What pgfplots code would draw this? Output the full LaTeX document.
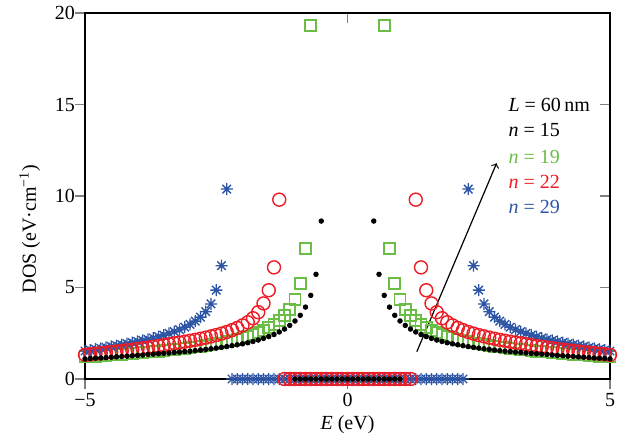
\documentclass[border=0pt]{standalone}
\usepackage{fontspec}
\setmainfont{Liberation Serif}
\usepackage{pgfplots}
\pgfplotsset{compat=1.18}
\usetikzlibrary{calc}
\definecolor{dosblack}{RGB}{0,0,0}
\definecolor{dosgreen}{RGB}{106,190,69}
\definecolor{dosred}{RGB}{237,28,36}
\definecolor{dosblue}{RGB}{45,85,165}

% eight-armed asterisk, as in the original figure
\pgfdeclareplotmark{ast8}{%
  \pgfpathmoveto{\pgfqpoint{-\pgfplotmarksize}{0pt}}\pgfpathlineto{\pgfqpoint{\pgfplotmarksize}{0pt}}%
  \pgfpathmoveto{\pgfqpoint{0pt}{-\pgfplotmarksize}}\pgfpathlineto{\pgfqpoint{0pt}{\pgfplotmarksize}}%
  \pgfpathmoveto{\pgfqpoint{-0.707\pgfplotmarksize}{-0.707\pgfplotmarksize}}\pgfpathlineto{\pgfqpoint{0.707\pgfplotmarksize}{0.707\pgfplotmarksize}}%
  \pgfpathmoveto{\pgfqpoint{-0.707\pgfplotmarksize}{0.707\pgfplotmarksize}}\pgfpathlineto{\pgfqpoint{0.707\pgfplotmarksize}{-0.707\pgfplotmarksize}}%
  \pgfusepathqstroke}

% n = 15
\pgfplotstableread{
E D
-5.0 1.10
-4.9 1.12
-4.8 1.14
-4.7 1.15
-4.6 1.17
-4.5 1.19
-4.4 1.21
-4.3 1.23
-4.2 1.25
-4.1 1.27
-4.0 1.29
-3.9 1.31
-3.8 1.34
-3.7 1.36
-3.6 1.38
-3.5 1.40
-3.4 1.42
-3.3 1.45
-3.2 1.47
-3.1 1.50
-3.0 1.52
-2.9 1.55
-2.8 1.58
-2.7 1.62
-2.6 1.65
-2.5 1.69
-2.4 1.73
-2.3 1.77
-2.2 1.82
-2.1 1.87
-2.0 1.92
-1.9 1.98
-1.8 2.05
-1.7 2.13
-1.6 2.22
-1.5 2.32
-1.4 2.43
-1.3 2.57
-1.2 2.73
-1.1 2.93
-1.0 3.17
-0.9 3.48
-0.8 3.93
-0.7 4.57
-0.6 5.72
-0.5 8.63
-1.0 0
-0.9 0
-0.8 0
-0.7 0
-0.6 0
-0.5 0
-0.4 0
-0.3 0
-0.2 0
-0.1 0
0.0 0
0.1 0
0.2 0
0.3 0
0.4 0
0.5 0
0.6 0
0.7 0
0.8 0
0.9 0
1.0 0
0.5 8.63
0.6 5.72
0.7 4.57
0.8 3.93
0.9 3.48
1.0 3.17
1.1 2.93
1.2 2.73
1.3 2.57
1.4 2.43
1.5 2.32
1.6 2.22
1.7 2.13
1.8 2.05
1.9 1.98
2.0 1.92
2.1 1.87
2.2 1.82
2.3 1.77
2.4 1.73
2.5 1.69
2.6 1.65
2.7 1.62
2.8 1.58
2.9 1.55
3.0 1.52
3.1 1.50
3.2 1.47
3.3 1.45
3.4 1.42
3.5 1.40
3.6 1.38
3.7 1.36
3.8 1.34
3.9 1.31
4.0 1.29
4.1 1.27
4.2 1.25
4.3 1.23
4.4 1.21
4.5 1.19
4.6 1.17
4.7 1.15
4.8 1.14
4.9 1.12
5.0 1.10
}\nfifteen

% n = 19
\pgfplotstableread{
E D
-5.0 1.21
-4.9 1.23
-4.8 1.25
-4.7 1.27
-4.6 1.29
-4.5 1.31
-4.4 1.33
-4.3 1.35
-4.2 1.37
-4.1 1.39
-4.0 1.42
-3.9 1.44
-3.8 1.47
-3.7 1.49
-3.6 1.52
-3.5 1.55
-3.4 1.58
-3.3 1.61
-3.2 1.64
-3.1 1.67
-3.0 1.71
-2.9 1.75
-2.8 1.79
-2.7 1.83
-2.6 1.87
-2.5 1.92
-2.4 1.97
-2.3 2.03
-2.2 2.09
-2.1 2.16
-2.0 2.24
-1.9 2.32
-1.8 2.42
-1.7 2.53
-1.6 2.65
-1.5 2.80
-1.4 2.98
-1.3 3.21
-1.2 3.46
-1.1 3.81
-1.0 4.34
-0.9 5.21
-0.8 7.12
-0.7 19.3
-1.0 0
-0.9 0
-0.8 0
-0.7 0
-0.6 0
-0.5 0
-0.4 0
-0.3 0
-0.2 0
-0.1 0
0.0 0
0.1 0
0.2 0
0.3 0
0.4 0
0.5 0
0.6 0
0.7 0
0.8 0
0.9 0
1.0 0
0.7 19.3
0.8 7.12
0.9 5.21
1.0 4.34
1.1 3.81
1.2 3.46
1.3 3.21
1.4 2.98
1.5 2.80
1.6 2.65
1.7 2.53
1.8 2.42
1.9 2.32
2.0 2.24
2.1 2.16
2.2 2.09
2.3 2.03
2.4 1.97
2.5 1.92
2.6 1.87
2.7 1.83
2.8 1.79
2.9 1.75
3.0 1.71
3.1 1.67
3.2 1.64
3.3 1.61
3.4 1.58
3.5 1.55
3.6 1.52
3.7 1.49
3.8 1.47
3.9 1.44
4.0 1.42
4.1 1.39
4.2 1.37
4.3 1.35
4.4 1.33
4.5 1.31
4.6 1.29
4.7 1.27
4.8 1.25
4.9 1.23
5.0 1.21
}\nnineteen

% n = 22
\pgfplotstableread{
E D
-5.0 1.32
-4.9 1.35
-4.8 1.38
-4.7 1.41
-4.6 1.44
-4.5 1.47
-4.4 1.50
-4.3 1.53
-4.2 1.57
-4.1 1.60
-4.0 1.64
-3.9 1.68
-3.8 1.72
-3.7 1.76
-3.6 1.80
-3.5 1.85
-3.4 1.90
-3.3 1.95
-3.2 1.99
-3.1 2.04
-3.0 2.09
-2.9 2.14
-2.8 2.20
-2.7 2.26
-2.6 2.33
-2.5 2.40
-2.4 2.48
-2.3 2.57
-2.2 2.67
-2.1 2.79
-2.0 2.93
-1.9 3.10
-1.8 3.32
-1.7 3.65
-1.6 4.13
-1.5 4.85
-1.4 6.10
-1.3 9.80
-1.2 0
-1.1 0
-1.0 0
-0.9 0
-0.8 0
-0.7 0
-0.6 0
-0.5 0
-0.4 0
-0.3 0
-0.2 0
-0.1 0
0.0 0
0.1 0
0.2 0
0.3 0
0.4 0
0.5 0
0.6 0
0.7 0
0.8 0
0.9 0
1.0 0
1.1 0
1.2 0
1.3 9.80
1.4 6.10
1.5 4.85
1.6 4.13
1.7 3.65
1.8 3.32
1.9 3.10
2.0 2.93
2.1 2.79
2.2 2.67
2.3 2.57
2.4 2.48
2.5 2.40
2.6 2.33
2.7 2.26
2.8 2.20
2.9 2.14
3.0 2.09
3.1 2.04
3.2 1.99
3.3 1.95
3.4 1.90
3.5 1.85
3.6 1.80
3.7 1.76
3.8 1.72
3.9 1.68
4.0 1.64
4.1 1.60
4.2 1.57
4.3 1.53
4.4 1.50
4.5 1.47
4.6 1.44
4.7 1.41
4.8 1.38
4.9 1.35
5.0 1.32
}\ntwentytwo

% n = 29
\pgfplotstableread{
E D
-5.0 1.53
-4.9 1.58
-4.8 1.63
-4.7 1.68
-4.6 1.73
-4.5 1.78
-4.4 1.83
-4.3 1.88
-4.2 1.93
-4.1 1.99
-4.0 2.05
-3.9 2.11
-3.8 2.17
-3.7 2.24
-3.6 2.32
-3.5 2.40
-3.4 2.49
-3.3 2.59
-3.2 2.70
-3.1 2.83
-3.0 2.98
-2.9 3.16
-2.8 3.38
-2.7 3.68
-2.6 4.10
-2.5 4.86
-2.4 6.19
-2.3 10.38
-2.2 0
-2.1 0
-2.0 0
-1.9 0
-1.8 0
-1.7 0
-1.6 0
-1.5 0
-1.4 0
-1.3 0
-1.2 0
-1.1 0
-1.0 0
-0.9 0
-0.8 0
-0.7 0
-0.6 0
-0.5 0
-0.4 0
-0.3 0
-0.2 0
-0.1 0
0.0 0
0.1 0
0.2 0
0.3 0
0.4 0
0.5 0
0.6 0
0.7 0
0.8 0
0.9 0
1.0 0
1.1 0
1.2 0
1.3 0
1.4 0
1.5 0
1.6 0
1.7 0
1.8 0
1.9 0
2.0 0
2.1 0
2.2 0
2.3 10.38
2.4 6.19
2.5 4.86
2.6 4.10
2.7 3.68
2.8 3.38
2.9 3.16
3.0 2.98
3.1 2.83
3.2 2.70
3.3 2.59
3.4 2.49
3.5 2.40
3.6 2.32
3.7 2.24
3.8 2.17
3.9 2.11
4.0 2.05
4.1 1.99
4.2 1.93
4.3 1.88
4.4 1.83
4.5 1.78
4.6 1.73
4.7 1.68
4.8 1.63
4.9 1.58
5.0 1.53
}\ntwentynine

\begin{document}
\begin{tikzpicture}
\begin{axis}[
    scale only axis,
    width=262.5pt, height=183pt,
    xmin=-5, xmax=5, ymin=0, ymax=20,
    xtick={-5,0,5}, xticklabels={−5,0,5},
    ytick={0,5,10,15,20},
    /pgf/number format/assume math mode=true,
    axis line style={line width=1pt},
    tick align=center, major tick length=5pt,
    xtick style={line width=0.8pt, yshift=-2.5pt},
    ytick style={line width=0.8pt, xshift=-2.5pt},
    xticklabel style={yshift=-1pt},
    yticklabel style={xshift=1pt},
    xlabel={\textit{E} (eV)},
    ylabel={DOS (eV·cm\textsuperscript{−1})},
    every axis x label/.style={at={(axis description cs:0.5,-0.126)}, anchor=center},
    every axis y label/.style={at={(axis description cs:-0.105,0.41)}, rotate=90, anchor=center},
    clip=false,
]
\addplot[only marks, mark=square, mark size=2.75pt, color=dosgreen, line width=0.9pt] table[x=E, y=D] {\nnineteen};
\addplot[only marks, mark=ast8, mark size=3pt, color=dosblue, line width=0.7pt] table[x=E, y=D] {\ntwentynine};
\addplot[only marks, mark=o, mark size=3.25pt, color=dosred, line width=0.7pt] table[x=E, y=D] {\ntwentytwo};
\addplot[only marks, mark=*, mark size=1.15pt, color=dosblack] table[x=E, y=D] {\nfifteen};

\draw[->, line width=0.6pt] (axis cs:1.32,1.49) -- (axis cs:2.84,11.79);
\node[anchor=west, inner sep=0pt] at (axis cs:3.06,14.97) {\textit{L} = 60\,nm};
\node[anchor=west, inner sep=0pt, text=dosblack] at (axis cs:3.06,13.6) {\textit{n} = 15};
\node[anchor=west, inner sep=0pt, text=dosgreen] at (axis cs:3.06,12.15) {\textit{n} = 19};
\node[anchor=west, inner sep=0pt, text=dosred] at (axis cs:3.06,10.78) {\textit{n} = 22};
\node[anchor=west, inner sep=0pt, text=dosblue] at (axis cs:3.06,9.42) {\textit{n} = 29};
\end{axis}
\pgfresetboundingbox
\path ($(current axis.south west)+(-42.5pt,-32pt)$) rectangle ($(current axis.north east)+(12.5pt,6.5pt)$);
\end{tikzpicture}
\end{document}
